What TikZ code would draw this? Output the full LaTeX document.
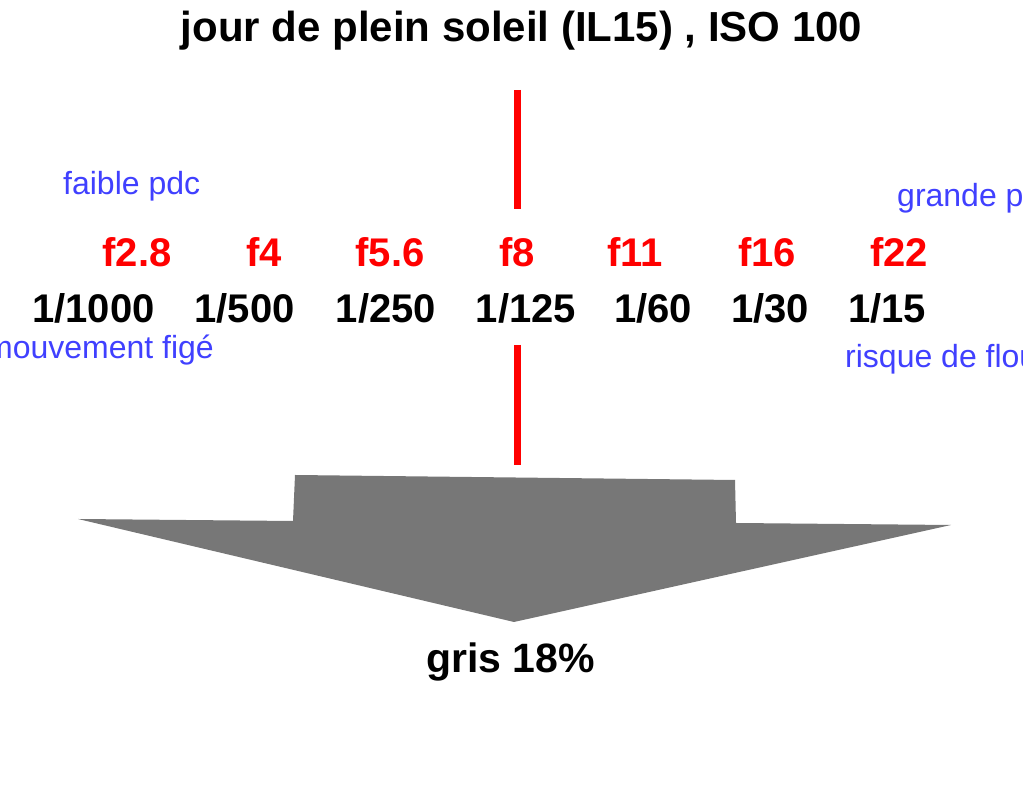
\documentclass[tikz,border=0pt]{standalone}
\usepackage{fontspec}
\setmainfont{Liberation Sans}
\definecolor{fred}{RGB}{255,0,0}
\definecolor{nblue}{RGB}{64,64,255}
\definecolor{agrey}{RGB}{119,119,119}
\begin{document}
\begin{tikzpicture}[x=1pt,y=1pt,
  title/.style={font=\fontsize{42}{48}\selectfont\bfseries, anchor=base, inner sep=0pt},
  fnum/.style={font=\fontsize{40}{46}\selectfont\bfseries, text=fred, anchor=base, inner sep=0pt},
  speed/.style={font=\fontsize{40}{46}\selectfont\bfseries, text=black, anchor=base, inner sep=0pt},
  note/.style={font=\fontsize{32}{37}\selectfont, text=nblue, inner sep=0pt},
  redline/.style={draw=fred, line width=7pt},
  bigarrow/.style={fill=agrey, draw=none}]
\useasboundingbox (0,0) rectangle (1023,800);
\clip (0,0) rectangle (1023,800);
% title
\node[title] (title) at (521.5,758) {jour de plein soleil (IL15) , ISO 100};
% red lines
\coordinate (l1a) at (517,710);
\coordinate (l1b) at (517,591);
\coordinate (l2a) at (517,455);
\coordinate (l2b) at (517,335);
\draw[redline] (l1a) -- (l1b);
\draw[redline] (l2a) -- (l2b);
% notes
\node[note, anchor=base west] (faible) at (63,605) {faible pdc};
\node[note, anchor=base west] (grande) at (897,593) {grande pdc};
\node[note, anchor=base east] (mouv) at (214,441) {mouvement figé};
\node[note, anchor=base west] (risque) at (845,432) {risque de flou};
% f-numbers
\node[fnum] (f28) at (137,533) {f2.8};
\node[fnum] (f4) at (264,533) {f4};
\node[fnum] (f56) at (390,533) {f5.6};
\node[fnum] (f8) at (517,533) {f8};
\node[fnum] (f11) at (635,533) {f11};
\node[fnum] (f16) at (767,533) {f16};
\node[fnum] (f22) at (899,533) {f22};
% speeds
\node[speed] (s1000) at (93.5,477) {1/1000};
\node[speed] (s500) at (244.5,477) {1/500};
\node[speed] (s250) at (386,477) {1/250};
\node[speed] (s125) at (526,477) {1/125};
\node[speed] (s60) at (653,477) {1/60};
\node[speed] (s30) at (770,477) {1/30};
\node[speed] (s15) at (887,477) {1/15};
% big arrow
\path[bigarrow] (78,281) -- (293,279) -- (295,325) -- (735,320) -- (736,277) -- (951,275) -- (514,178) -- cycle;
% result
\node[title, font=\fontsize{41}{46}\selectfont\bfseries] (gris) at (510.5,127) {gris 18\%};
\end{tikzpicture}
\end{document}
